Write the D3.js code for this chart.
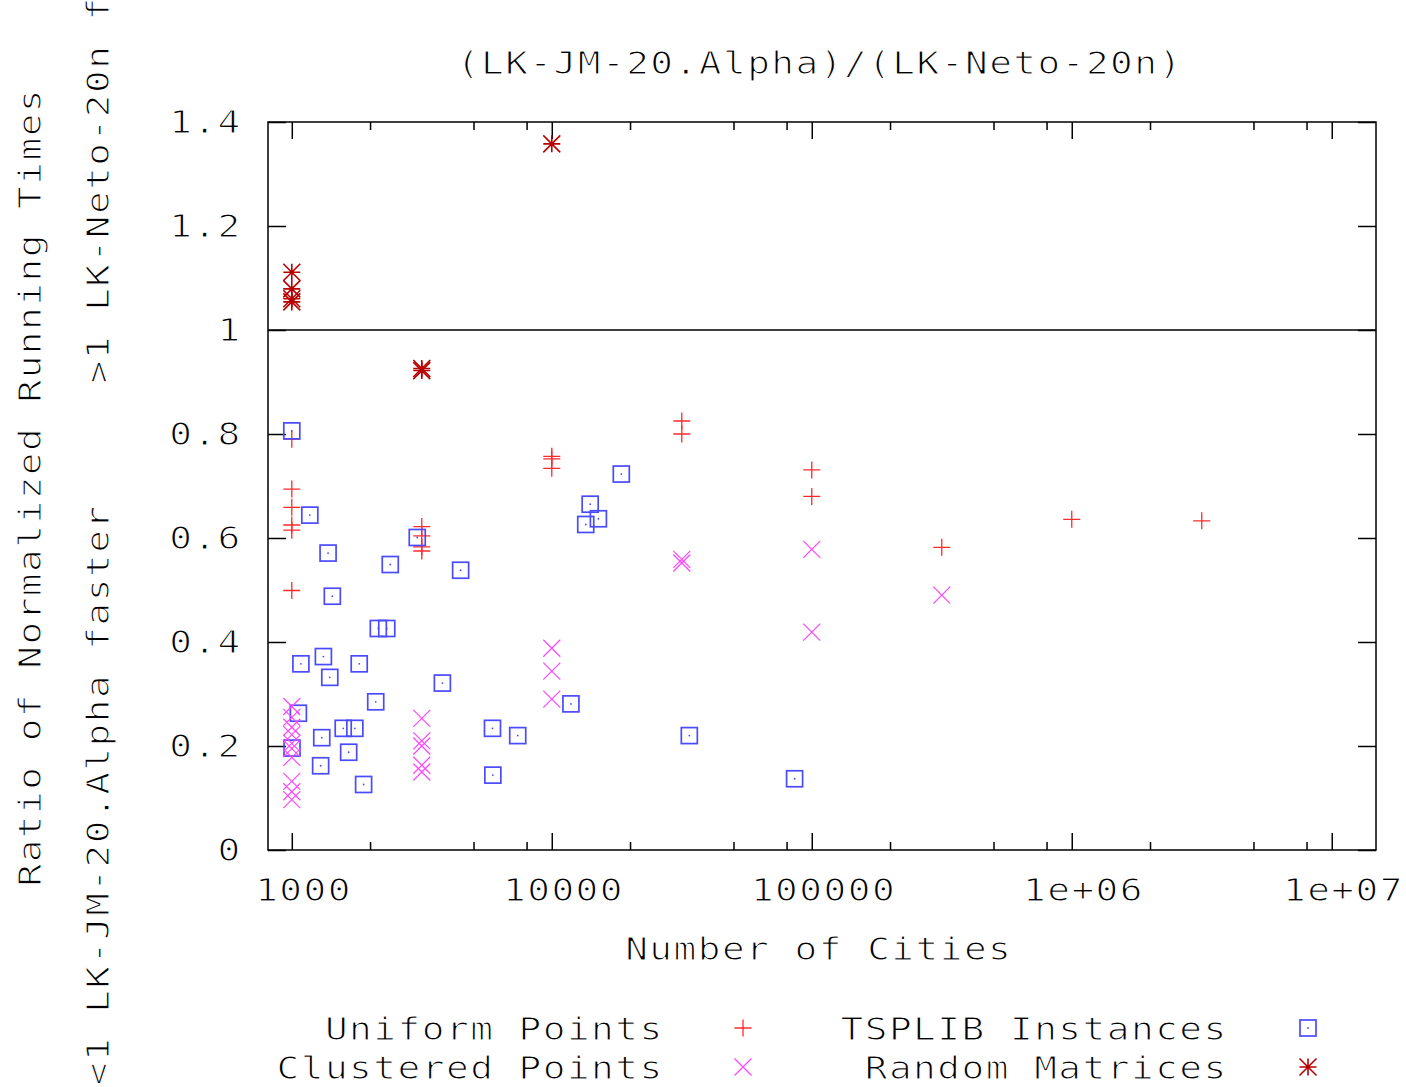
<!DOCTYPE html>
<html>
<head>
<meta charset="utf-8">
<script src="https://cdn.jsdelivr.net/npm/d3@7"></script>
<style>
  html, body { margin: 0; padding: 0; background: #fff; }
  svg { display: block; }
  text {
    font-family: 'DejaVu Sans Mono', 'Liberation Mono', monospace;
    font-size: 32px;
    fill: #000;
    stroke: #fff;
    stroke-width: 1.1px;
    white-space: pre;
  }
</style>
</head>
<body>
<svg id="chart" width="1406" height="1087" xml:space="preserve"></svg>
<script>
// ---- data: number of cities and running-time ratio per instance ----
const uniformCities = [1000, 1000, 1000, 1000, 1000, 1000,
                       3162, 3162, 3162, 3162,
                       10000, 10000, 10000,
                       31623, 31623,
                       100000, 100000,
                       316228, 1000000, 3162278];
const uniformRatios = [0.790, 0.694, 0.659, 0.625, 0.615, 0.499,
                       0.622, 0.604, 0.583, 0.575,
                       0.757, 0.752, 0.734,
                       0.825, 0.800,
                       0.731, 0.680,
                       0.582, 0.636, 0.633];

const tsplibCities = [1000, 1002, 1060, 1084, 1173, 1291, 1304, 1323, 1379, 1400,
                      1432, 1577, 1655, 1748, 1817, 1889, 2103, 2152, 2319, 2392,
                      3038, 3795, 4461, 5915, 5934, 7397, 11849, 13509, 14051, 15112,
                      18512, 33810, 85900];
const tsplibRatios = [0.806, 0.196, 0.263, 0.358, 0.644, 0.162, 0.216, 0.372, 0.571, 0.332,
                      0.488, 0.234, 0.188, 0.234, 0.358, 0.126, 0.285, 0.426, 0.426, 0.549,
                      0.601, 0.321, 0.538, 0.234, 0.144, 0.220, 0.281, 0.626, 0.665, 0.637,
                      0.723, 0.220, 0.137];

const clusteredCities = [1000, 1000, 1000, 1000, 1000, 1000, 1000, 1000, 1000, 1000,
                         3162, 3162, 3162, 3162, 3162,
                         10000, 10000, 10000,
                         31623, 31623,
                         100000, 100000,
                         316228];
const clusteredRatios = [0.276, 0.255, 0.236, 0.222, 0.205, 0.195, 0.178, 0.132, 0.112, 0.097,
                         0.253, 0.210, 0.200, 0.163, 0.150,
                         0.388, 0.344, 0.290,
                         0.559, 0.552,
                         0.578, 0.419,
                         0.490];

const matrixCities = [1000, 1000, 1000, 1000, 3162, 3162, 10000];
const matrixRatios = [1.111, 1.079, 1.060, 1.054, 0.926, 0.922, 1.358];

// ---- axes ----
const xMajorTicks = [1e3, 1e4, 1e5, 1e6, 1e7];
const xTickLabels = ["1000", "10000", "100000", "1e+06", "1e+07"];
const xMinorFactors = [2, 5, 8];
const yTicks = [0, 0.2, 0.4, 0.6, 0.8, 1.0, 1.2, 1.4];
const yTickLabels = ["0", "0.2", "0.4", "0.6", "0.8", "1", "1.2", "1.4"];
const referenceRatio = 1;

const titleText = "(LK-JM-20.Alpha)/(LK-Neto-20n)";
const xTitle = "Number of Cities";
const yTitle1 = "Ratio of Normalized Running Times";
const yTitle2 = "<1 LK-JM-20.Alpha faster     >1 LK-Neto-20n faster";

const legendLabels = ["Uniform Points", "TSPLIB Instances", "Clustered Points", "Random Matrices"];

// ---- layout ----
const W = 1406, H = 1087;
const L = 268, R = 1376, T = 122, B = 850;
const CELL = 24.2;   // fixed character cell for the terminal-style font
const STRETCH = 1.18; // terminal glyphs are wider than the stock monospace ones

const svg = d3.select("#chart");

const x = d3.scaleLog().domain([810, 1.48e7]).range([L, R]);
const y = d3.scaleLinear().domain([0, 1.4]).range([B, T]);

// monospaced text: every character sits in its own fixed-width cell
function mono(parent, str, px, py, anchor) {
  const n = str.length;
  let x0;
  if (anchor === "start") x0 = px;
  else if (anchor === "end") x0 = px - n * CELL;
  else x0 = px - n * CELL / 2;
  const xs = Array.from(str, (c, i) => ((x0 + (i + 0.5) * CELL) / STRETCH).toFixed(2));
  return parent.append("g")
    .attr("transform", `scale(${STRETCH},1)`)
    .append("text")
    .attr("x", xs.join(" "))
    .attr("y", py)
    .attr("text-anchor", "middle")
    .text(str);
}

// ---- frame ----
svg.append("rect")
  .attr("x", L).attr("y", T).attr("width", R - L).attr("height", B - T)
  .attr("fill", "none").attr("stroke", "#000").attr("stroke-width", 1.5);

// ---- tick marks (pointing inward on all four sides) ----
const xMinorTicks = [];
for (const d of [1e3, 1e4, 1e5, 1e6]) for (const f of xMinorFactors) xMinorTicks.push(d * f);

function tickAxis(axis, tx, ty) {
  const g = svg.append("g").attr("transform", `translate(${tx},${ty})`).call(axis);
  g.select(".domain").remove();
  g.selectAll(".tick line").attr("stroke", "#000").attr("stroke-width", 1.5);
  g.selectAll(".tick text").remove();
  return g;
}
tickAxis(d3.axisBottom(x).tickValues(xMajorTicks).tickSize(-17).tickFormat(""), 0, B);
tickAxis(d3.axisBottom(x).tickValues(xMinorTicks).tickSize(-8).tickFormat(""), 0, B);
tickAxis(d3.axisTop(x).tickValues(xMajorTicks).tickSize(-17).tickFormat(""), 0, T);
tickAxis(d3.axisTop(x).tickValues(xMinorTicks).tickSize(-8).tickFormat(""), 0, T);
tickAxis(d3.axisLeft(y).tickValues(yTicks).tickSize(-18).tickFormat(""), L, 0);
tickAxis(d3.axisRight(y).tickValues(yTicks).tickSize(-18).tickFormat(""), R, 0);

// ---- tick labels ----
xMajorTicks.forEach((v, i) => mono(svg, xTickLabels[i], x(v) + 11, 901, "middle"));
yTicks.forEach((v, i) => mono(svg, yTickLabels[i], 241, y(v) + 11.5, "end"));

// ---- ratio = 1 reference line ----
svg.append("line")
  .attr("x1", L).attr("x2", R)
  .attr("y1", y(referenceRatio)).attr("y2", y(referenceRatio))
  .attr("stroke", "#000").attr("stroke-width", 1.5);

// ---- titles ----
mono(svg, titleText, 819, 74, "middle");
mono(svg, xTitle, 818, 960, "middle");

const yt1 = svg.append("g").attr("transform", "translate(41,0) rotate(-90)");
mono(yt1, yTitle1, -488, 0, "middle");
const yt2 = svg.append("g").attr("transform", "translate(109,0) rotate(-90)");
mono(yt2, yTitle2, -1086, 0, "start");

// ---- point symbols ----
const S = 8.5;
const symbols = {
  plus: g => g.append("path").attr("d", `M${-S},0H${S}M0,${-S}V${S}`),
  cross: g => g.append("path").attr("d", `M${-S},${-S}L${S},${S}M${-S},${S}L${S},${-S}`),
  box: g => {
    g.append("rect").attr("x", -8).attr("y", -8).attr("width", 16).attr("height", 16).attr("fill", "none");
    g.append("circle").attr("r", 0.9).attr("stroke", "none");
  },
  star: g => {
    g.append("path").attr("d", `M${-S},0H${S}M0,${-S}V${S}M${-S},${-S}L${S},${S}M${-S},${S}L${S},${-S}`);
    g.append("circle").attr("r", 2.2).attr("stroke", "none");
  }
};

const series = [
  { cities: uniformCities,   ratios: uniformRatios,   sym: "plus",  color: "#ff2a2a", width: 1.3 },
  { cities: tsplibCities,    ratios: tsplibRatios,    sym: "box",   color: "#4a4aff", width: 1.7 },
  { cities: clusteredCities, ratios: clusteredRatios, sym: "cross", color: "#ff44ff", width: 1.2 },
  { cities: matrixCities,    ratios: matrixRatios,    sym: "star",  color: "#b80000", width: 1.6 }
];

function drawSymbol(parent, s, cx, cy) {
  const g = parent.append("g")
    .attr("transform", `translate(${cx},${cy})`)
    .attr("stroke", s.color).attr("fill", s.color)
    .attr("stroke-width", s.width);
  symbols[s.sym](g);
  g.selectAll("path").attr("fill", "none");
}

const plot = svg.append("g");
series.forEach(s => {
  s.cities.forEach((c, i) => drawSymbol(plot, s, x(c), y(s.ratios[i])));
});

// ---- legend (two rows, two columns) ----
const legendRows = [1040, 1079];
const legendTextRight = [663, 1227];
const legendMarkX = [743, 1308];
series.forEach((s, i) => {
  const row = i < 2 ? 0 : 1;
  const col = i % 2;
  mono(svg, legendLabels[i], legendTextRight[col], legendRows[row], "end");
  drawSymbol(svg, s, legendMarkX[col], legendRows[row] - 12);
});
</script>
</body>
</html>
